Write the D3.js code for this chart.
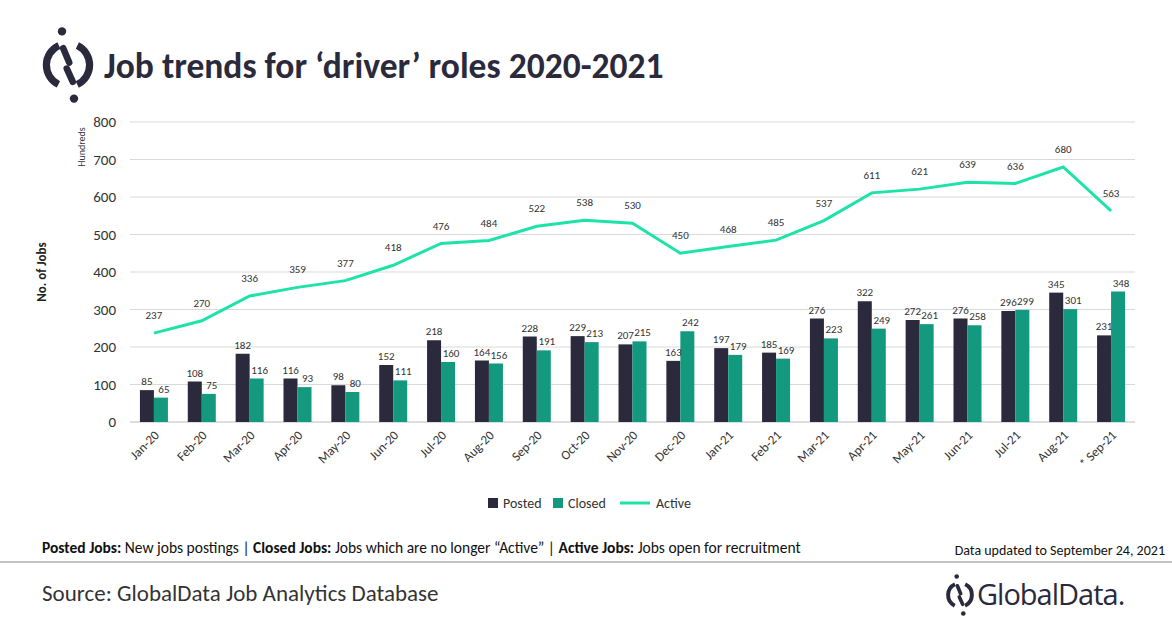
<!DOCTYPE html>
<html><head><meta charset="utf-8">
<script src="https://cdn.jsdelivr.net/npm/d3@7"></script>
<style>body{margin:0;background:#fff;font-family:Calibri,'Open Sans',Carlito,sans-serif}</style>
</head><body><svg id="c" width="1172" height="628"></svg>
<script>
const categories=["Jan-20","Feb-20","Mar-20","Apr-20","May-20","Jun-20","Jul-20","Aug-20","Sep-20","Oct-20","Nov-20","Dec-20","Jan-21","Feb-21","Mar-21","Apr-21","May-21","Jun-21","Jul-21","Aug-21","* Sep-21"];
const posted=[85,108,182,116,98,152,218,164,228,229,207,163,197,185,276,322,272,276,296,345,231];
const closed=[65,75,116,93,80,111,160,156,191,213,215,242,179,169,223,249,261,258,299,301,348];
const active=[237,270,336,359,377,418,476,484,522,538,530,450,468,485,537,611,621,639,636,680,563];
const yTicks=[0,100,200,300,400,500,600,700,800];
const cPost="#2b2a3d",cClose="#139a7e",cAct="#1de3a8",dark="#2b2a3d";
const svg=d3.select("#c");
const L=130,R=1135,T=122,B=422;
const x=d3.scaleBand().domain(categories).range([L,R]);
const y=d3.scaleLinear().domain([0,800]).range([B,T]);
const bw=14;
svg.append("g").selectAll("line").data(yTicks).join("line")
 .attr("x1",L).attr("x2",R).attr("y1",d=>y(d)).attr("y2",d=>y(d))
 .attr("stroke",d=>d===0?"#bbb":"#d9d9d9");
svg.append("g").selectAll("text").data(yTicks).join("text")
 .attr("x",116).attr("y",d=>y(d)+5).attr("text-anchor","end").attr("font-size",15).attr("fill","#333").text(d=>d);
svg.append("text").attr("transform","translate(85,147) rotate(-90)").attr("text-anchor","middle").attr("font-size",10).attr("fill","#333").text("Hundreds");
svg.append("text").attr("transform","translate(46,272) rotate(-90)").attr("text-anchor","middle").attr("font-size",13).attr("font-weight","bold").attr("fill","#222").text("No. of Jobs");
const cx=d=>x(d)+x.bandwidth()/2;
const g=svg.append("g");
g.selectAll(".p").data(categories).join("rect").attr("x",d=>cx(d)-bw).attr("width",bw)
 .attr("y",(d,i)=>y(posted[i])).attr("height",(d,i)=>B-y(posted[i])).attr("fill",cPost);
g.selectAll(".c").data(categories).join("rect").attr("x",d=>cx(d)).attr("width",bw)
 .attr("y",(d,i)=>y(closed[i])).attr("height",(d,i)=>B-y(closed[i])).attr("fill",cClose);
g.selectAll(".pl").data(categories).join("text").attr("x",d=>cx(d)-bw/2).attr("y",(d,i)=>y(posted[i])-5)
 .attr("text-anchor","middle").attr("font-size",11).attr("fill","#333").text((d,i)=>posted[i]);
g.selectAll(".cl").data(categories).join("text").attr("x",d=>cx(d)+bw/2+3).attr("y",(d,i)=>y(closed[i])-5)
 .attr("text-anchor","middle").attr("font-size",11).attr("fill","#333").text((d,i)=>closed[i]);
svg.append("path").datum(active).attr("fill","none").attr("stroke",cAct).attr("stroke-width",3)
 .attr("d",d3.line().x((d,i)=>cx(categories[i])).y(d=>y(d)));
svg.append("g").selectAll("text").data(active).join("text").attr("x",(d,i)=>cx(categories[i])).attr("y",d=>y(d)-14)
 .attr("text-anchor","middle").attr("font-size",11).attr("fill","#333").text(d=>d);
svg.append("g").selectAll("text").data(categories).join("text")
 .attr("transform",d=>`translate(${cx(d)+6},${B+14}) rotate(-45)`).attr("text-anchor","end")
 .attr("font-size",13).attr("fill","#333").text(d=>d);
const leg=[["Posted",cPost,"r",488],["Closed",cClose,"r",553],["Active",cAct,"l",620]];
leg.forEach(([t,c,k,lx])=>{
 if(k==="r")svg.append("rect").attr("x",lx).attr("y",498).attr("width",10).attr("height",10).attr("fill",c);
 else svg.append("line").attr("x1",lx).attr("x2",lx+30).attr("y1",503).attr("y2",503).attr("stroke",c).attr("stroke-width",3);
 svg.append("text").attr("x",k==="r"?lx+15:lx+36).attr("y",508).attr("font-size",14).attr("fill","#333").text(t);
});
function logo(gx,s){
 const lg=svg.append("g").attr("transform",`translate(${gx[0]},${gx[1]}) scale(${s})`);
 lg.append("path").attr("d",d3.arc()({innerRadius:15,outerRadius:21,startAngle:0.45,endAngle:2.7})).attr("fill",dark);
 lg.append("path").attr("d",d3.arc()({innerRadius:15,outerRadius:21,startAngle:3.6,endAngle:5.85})).attr("fill",dark);
 lg.append("line").attr("x1",-4).attr("y1",-14).attr("x2",1).attr("y2",-2).attr("stroke",dark).attr("stroke-width",5.5).attr("stroke-linecap","round");
 lg.append("line").attr("x1",-1).attr("y1",3).attr("x2",4).attr("y2",14).attr("stroke",dark).attr("stroke-width",5.5).attr("stroke-linecap","round");
 lg.append("circle").attr("cx",-5).attr("cy",-28).attr("r",3.5).attr("fill",dark);
 lg.append("circle").attr("cx",5).attr("cy",28).attr("r",3.5).attr("fill",dark);
}
logo([68,65],1.2);
svg.append("text").attr("x",104).attr("y",78).attr("font-size",35.5).attr("font-weight","bold").attr("fill",dark).text("Job trends for ‘driver’ roles 2020-2021");
const ft=svg.append("text").attr("x",42).attr("y",553).attr("font-size",15.5).attr("fill","#111");
[["Posted Jobs:",1],[" New jobs postings | ",0],["Closed Jobs:",1],[" Jobs which are no longer “Active” | ",0],["Active Jobs:",1],[" Jobs open for recruitment",0]]
 .forEach(([t,b])=>ft.append("tspan").attr("font-weight",b?"bold":"normal").text(t));
svg.append("text").attr("x",1165).attr("y",555).attr("text-anchor","end").attr("font-size",14).attr("fill","#111").text("Data updated to September 24, 2021");
svg.append("line").attr("x1",0).attr("x2",1172).attr("y1",562).attr("y2",562).attr("stroke","#888");
svg.append("text").attr("x",42).attr("y",601).attr("font-size",23).attr("fill","#333").text("Source: GlobalData Job Analytics Database");
logo([960,595],0.66);
svg.append("text").attr("x",977).attr("y",605).attr("font-size",29).attr("fill",dark).attr("font-family","'Open Sans',sans-serif").attr("letter-spacing","-1").text("GlobalData.");
</script></body></html>
